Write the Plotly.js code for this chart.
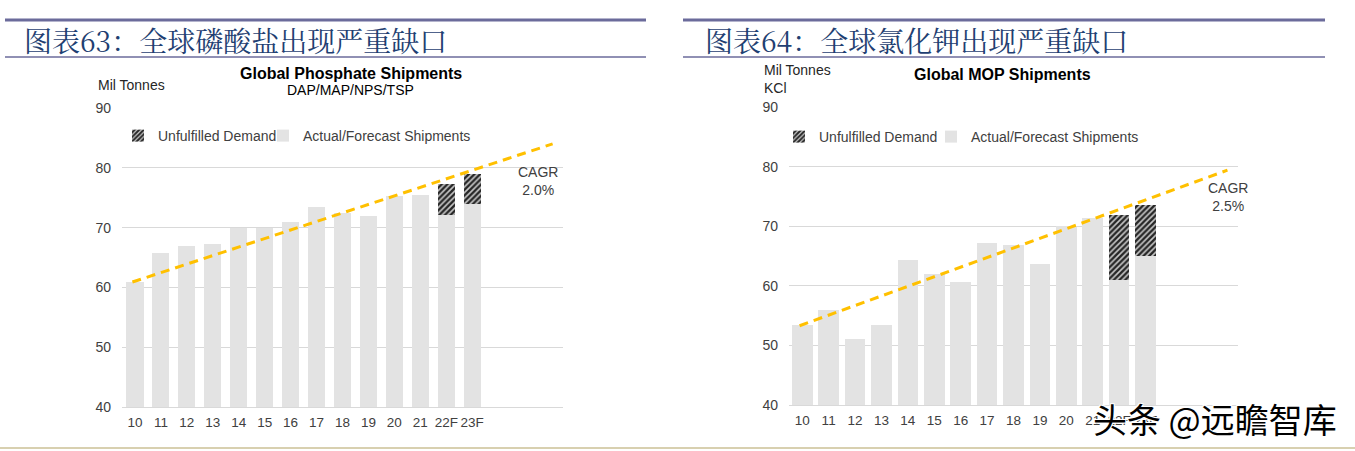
<!DOCTYPE html>
<html>
<head>
<meta charset="utf-8">
<script src="https://cdn.plot.ly/plotly-3.0.1.min.js"></script>
<style>
  body { margin: 0; background: #fff; }
  #chart { width: 1355px; height: 451px; }
</style>
</head>
<body>
<div id="chart"></div>
<script>
// categories (years)
const years = ['10', '11', '12', '13', '14', '15', '16', '17', '18', '19', '20', '21', '22F', '23F'];
const yearPos = [0, 1, 2, 3, 4, 5, 6, 7, 8, 9, 10, 11, 12, 13];

// Global Phosphate Shipments (Mil Tonnes)
const phosShip = [60.9, 65.7, 67.0, 67.3, 70.0, 70.0, 70.9, 73.4, 72.5, 71.9, 75.3, 75.4, 72.1, 73.9];
const phosGap = [null, null, null, null, null, null, null, null, null, null, null, null, 5.2, 5.0];
const phosTrendX = [-0.1, 16.1];
const phosTrendY = [60.9, 84.0];

// Global MOP Shipments (Mil Tonnes KCl)
const mopShip = [53.4, 56.0, 51.0, 53.4, 64.3, 61.9, 60.6, 67.2, 66.8, 63.6, 70.1, 71.4, 60.9, 65.0];
const mopGap = [null, null, null, null, null, null, null, null, null, null, null, null, 11.0, 8.5];
const mopTrendX = [-0.1, 16.1];
const mopTrendY = [53.3, 79.4];

const yTicks = [40, 50, 60, 70, 80, 90];

const W = 1355, H = 451;
const px = x => x / W;
const py = y => 1 - y / H;

const font = 'Liberation Sans, Arial, sans-serif';
const cjk = 'Noto Serif CJK SC, Noto Sans CJK SC, serif';
const grey = '#e3e3e3';
const hatch = {shape: '/', fgcolor: '#262626', bgcolor: '#c8c8c8', size: 4, solidity: 0.6};

let traces = [
    {type: 'bar', x: yearPos, y: phosShip, name: 'Actual/Forecast Shipments', width: 0.66,
     marker: {color: grey}, xaxis: 'x', yaxis: 'y', legend: 'legend3'},
    {type: 'bar', x: yearPos, y: phosGap, name: 'Unfulfilled Demand', width: 0.66,
     marker: {color: '#c8c8c8', pattern: hatch}, xaxis: 'x', yaxis: 'y', legend: 'legend'},
    {type: 'scatter', mode: 'lines', x: phosTrendX, y: phosTrendY, showlegend: false,
     line: {color: '#FFC000', width: 3, dash: '9px,6px'}, xaxis: 'x', yaxis: 'y', hoverinfo: 'skip'},

    {type: 'bar', x: yearPos, y: mopShip, name: 'Actual/Forecast Shipments', width: 0.78,
     marker: {color: grey}, xaxis: 'x2', yaxis: 'y2', legend: 'legend4'},
    {type: 'bar', x: yearPos, y: mopGap, name: 'Unfulfilled Demand', width: 0.78,
     marker: {color: '#c8c8c8', pattern: hatch}, xaxis: 'x2', yaxis: 'y2', legend: 'legend2'},
    {type: 'scatter', mode: 'lines', x: mopTrendX, y: mopTrendY, showlegend: false,
     line: {color: '#FFC000', width: 3, dash: '9px,6px'}, xaxis: 'x2', yaxis: 'y2', hoverinfo: 'skip'}
];

function xAxis(domain, anchor) {
    return {
        domain: domain, anchor: anchor, range: [-0.5, 16.5],
        tickmode: 'array', tickvals: yearPos, ticktext: years, tickangle: 0,
        showgrid: false, zeroline: false, showline: true, linecolor: '#d9d9d9', linewidth: 1,
        ticks: '', ticklabelstandoff: 3,
        tickfont: {family: font, size: 13.5, color: '#404040'}
    };
}
function yAxis(domain, anchor) {
    return {
        domain: domain, anchor: anchor, range: [40, 90],
        tickmode: 'array', tickvals: yTicks,
        showgrid: true, gridcolor: '#d9d9d9', gridwidth: 1, zeroline: false, showline: false,
        ticks: '', ticklabelstandoff: 10,
        tickfont: {family: font, size: 14, color: '#404040'}
    };
}

function leg(x, y) {
    return {
        orientation: 'h', bgcolor: 'rgba(0,0,0,0)',
        x: px(x), y: py(y), xanchor: 'left', yanchor: 'middle', itemclick: false,
        font: {family: font, size: 14, color: '#404040'}
    };
}

function ann(x, y, text, size, opts) {
    return Object.assign({
        xref: 'paper', yref: 'paper', x: px(x), y: py(y), text: text, showarrow: false,
        xanchor: 'center', yanchor: 'middle',
        font: {family: font, size: size, color: '#262626'}
    }, opts || {});
}

let layout = {
    width: W, height: H,
    margin: {l: 0, r: 0, t: 0, b: 0},
    paper_bgcolor: '#fff', plot_bgcolor: 'rgba(0,0,0,0)',
    barmode: 'stack', bargap: 0.3,
    xaxis: xAxis([px(122), px(563)], 'y'),
    yaxis: yAxis([1 - 407 / H, 1 - 108 / H], 'x'),
    xaxis2: xAxis([px(789), px(1238)], 'y2'),
    yaxis2: yAxis([1 - 405 / H, 1 - 107 / H], 'x2'),
    legend: leg(118, 136),
    legend3: leg(263, 136),
    legend2: leg(779, 137),
    legend4: leg(931, 137),
    shapes: [
        {type: 'line', xref: 'paper', yref: 'paper', x0: px(5), x1: px(646), y0: py(20), y1: py(20), line: {color: '#6b6b9b', width: 3}},
        {type: 'line', xref: 'paper', yref: 'paper', x0: px(5), x1: px(646), y0: py(57), y1: py(57), line: {color: '#6b6b9b', width: 1.5}},
        {type: 'line', xref: 'paper', yref: 'paper', x0: px(683), x1: px(1325), y0: py(20), y1: py(20), line: {color: '#6b6b9b', width: 3}},
        {type: 'line', xref: 'paper', yref: 'paper', x0: px(683), x1: px(1325), y0: py(57), y1: py(57), line: {color: '#6b6b9b', width: 1.5}},
        {type: 'line', xref: 'paper', yref: 'paper', x0: 0, x1: 1, y0: py(448), y1: py(448), line: {color: '#d8d0b0', width: 2}}
    ],
    annotations: [
        ann(22, 40, '图表63：全球磷酸盐出现严重缺口', 28, {xanchor: 'left', font: {family: cjk, size: 28, color: '#1f3f72'}}),
        ann(703, 40, '图表64：全球氯化钾出现严重缺口', 28, {xanchor: 'left', font: {family: cjk, size: 28, color: '#1f3f72'}}),

        ann(351, 73, '<b>Global Phosphate Shipments</b>', 16, {font: {family: font, size: 16, color: '#000'}}),
        ann(350, 90, 'DAP/MAP/NPS/TSP', 14, {font: {family: font, size: 14, color: '#000'}}),
        ann(96, 85, 'Mil Tonnes', 14, {xanchor: 'left', font: {family: font, size: 14, color: '#262626'}}),
        ann(538, 181, 'CAGR<br>2.0%', 14, {font: {family: font, size: 14, color: '#404040'}}),

        ann(1002, 75, '<b>Global MOP Shipments</b>', 16, {font: {family: font, size: 16, color: '#000'}}),
        ann(762, 79, 'Mil Tonnes<br>KCl', 14, {xanchor: 'left', align: 'left', font: {family: font, size: 14, color: '#262626'}}),
        ann(1228, 197, 'CAGR<br>2.5%', 14, {font: {family: font, size: 14, color: '#404040'}}),

        ann(1215, 418, '头条 @远瞻智库', 34, {font: {family: 'Noto Sans CJK SC, sans-serif', size: 34, color: '#000',
            shadow: '1px 1px 0px #fff, -1px -1px 0px #fff, 1px -1px 0px #fff, -1px 1px 0px #fff'}})
    ]
};

Plotly.newPlot('chart', traces, layout, {displayModeBar: false, staticPlot: true});
</script>
</body>
</html>
